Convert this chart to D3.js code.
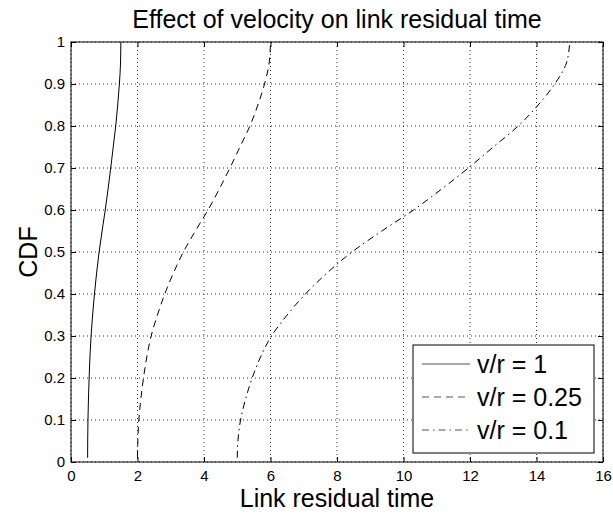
<!DOCTYPE html>
<meta charset="utf-8">
<style>
body { margin: 0; background: #fff; }
text { font-family: "Liberation Sans", Arial, sans-serif; fill: #000; }
.grid line { stroke: #333; stroke-width: 1; stroke-dasharray: 1,3; }
.curve { fill: none; stroke: #000; stroke-width: 1; }
</style>
<svg width="613" height="515"></svg>
<script src="https://d3js.org/d3.v7.min.js"></script>
<script>

// CDF levels shared by every curve
var cdf = [0.01, 0.05, 0.1, 0.15, 0.2, 0.25, 0.3, 0.35, 0.4, 0.45, 0.5,
           0.55, 0.6, 0.65, 0.7, 0.75, 0.8, 0.85, 0.9, 0.95, 1.0];

// link residual time for each v/r
var time_v1 = [0.50, 0.502, 0.51, 0.525, 0.545, 0.57, 0.603, 0.65, 0.705, 0.77, 0.845,
               0.935, 1.03, 1.115, 1.195, 1.27, 1.345, 1.405, 1.455, 1.49, 1.5];
var time_v025 = [2.0, 2.01, 2.04, 2.1, 2.18, 2.28, 2.41, 2.6, 2.82, 3.08, 3.38,
                 3.74, 4.12, 4.46, 4.78, 5.08, 5.38, 5.62, 5.82, 5.96, 6.0];
var time_v01 = [5.0, 5.02, 5.1, 5.25, 5.45, 5.7, 6.03, 6.5, 7.05, 7.7, 8.45,
                9.35, 10.3, 11.15, 11.95, 12.7, 13.45, 14.05, 14.55, 14.9, 15.0];

var seriesNames = ["v/r = 1", "v/r = 0.25", "v/r = 0.1"];
var seriesDash = ["none", "7,5", "7,4,1.5,4"];

var xTicks = [0, 2, 4, 6, 8, 10, 12, 14, 16];
var yTicks = [0, 0.1, 0.2, 0.3, 0.4, 0.5, 0.6, 0.7, 0.8, 0.9, 1];

var svg = d3.select("svg"),
    margin = {top: 42, right: 10, bottom: 53, left: 71},
    width = +svg.attr("width") - margin.left - margin.right,
    height = +svg.attr("height") - margin.top - margin.bottom;

var x = d3.scaleLinear().domain([0, 16]).range([0, width]);
var y = d3.scaleLinear().domain([0, 1]).range([height, 0]);

var g = svg.append("g").attr("transform", "translate(" + margin.left + "," + margin.top + ")");

// dotted grid
var grid = g.append("g").attr("class", "grid");
grid.selectAll("line.vx").data(xTicks).enter().append("line")
    .attr("x1", function(d) { return x(d); }).attr("x2", function(d) { return x(d); })
    .attr("y1", 0).attr("y2", height);
grid.selectAll("line.hy").data(yTicks).enter().append("line")
    .attr("x1", 0).attr("x2", width)
    .attr("y1", function(d) { return y(d); }).attr("y2", function(d) { return y(d); });

// axes, ticks pointing inside like matlab
var fmt = function(d) { return String(+d.toFixed(1)); };

var xAxis = g.append("g").attr("transform", "translate(0," + height + ")")
    .call(d3.axisBottom(x).tickValues(xTicks).tickFormat(fmt).tickSize(-5).tickSizeOuter(0).tickPadding(8));
var yAxis = g.append("g")
    .call(d3.axisLeft(y).tickValues(yTicks).tickFormat(fmt).tickSize(-5).tickSizeOuter(0).tickPadding(6));
g.append("g")
    .call(d3.axisTop(x).tickValues(xTicks).tickFormat("").tickSize(-5).tickSizeOuter(0));
g.append("g").attr("transform", "translate(" + width + ",0)")
    .call(d3.axisRight(y).tickValues(yTicks).tickFormat("").tickSize(-5).tickSizeOuter(0));

g.selectAll(".domain").remove();
g.selectAll(".tick line").attr("stroke", "#000");
g.selectAll(".tick text").style("font-size", "15px").attr("fill", "#000");

// curves
var allSeries = [time_v1, time_v025, time_v01];
var line = d3.line()
    .x(function(d) { return x(d[0]); })
    .y(function(d) { return y(d[1]); })
    .curve(d3.curveMonotoneY);

g.selectAll("path.curve").data(allSeries).enter().append("path")
    .attr("class", "curve")
    .attr("stroke-dasharray", function(d, i) { return seriesDash[i]; })
    .attr("d", function(d) { return line(d.map(function(t, j) { return [t, cdf[j]]; })); });

// box
g.append("rect").attr("width", width).attr("height", height)
    .attr("fill", "none").attr("stroke", "#000").attr("stroke-width", 1);

// legend
var leg = g.append("g").attr("transform", "translate(" + (413 - margin.left) + "," + (345 - margin.top) + ")");
leg.append("rect").attr("width", 181).attr("height", 108)
    .attr("fill", "#fff").attr("stroke", "#000").attr("stroke-width", 1);
var rows = leg.selectAll("g.row").data(seriesNames).enter().append("g")
    .attr("transform", function(d, i) { return "translate(0," + (19 + i * 33) + ")"; });
rows.append("line")
    .attr("x1", 9).attr("x2", 57)
    .attr("stroke", "#555").attr("stroke-width", 1)
    .attr("stroke-dasharray", function(d, i) { return seriesDash[i]; });
rows.append("text")
    .attr("x", 64).attr("dy", "0.36em")
    .style("font-size", "25px")
    .text(function(d) { return d; });

// title and labels
svg.append("text")
    .attr("x", margin.left + width / 2).attr("y", 28)
    .attr("text-anchor", "middle").style("font-size", "25px")
    .text("Effect of velocity on link residual time");

svg.append("text")
    .attr("x", margin.left + width / 2).attr("y", 507)
    .attr("text-anchor", "middle").style("font-size", "25px")
    .text("Link residual time");

svg.append("text")
    .attr("transform", "translate(37," + (margin.top + height / 2) + ") rotate(-90)")
    .attr("text-anchor", "middle").style("font-size", "25px")
    .text("CDF");

</script>
